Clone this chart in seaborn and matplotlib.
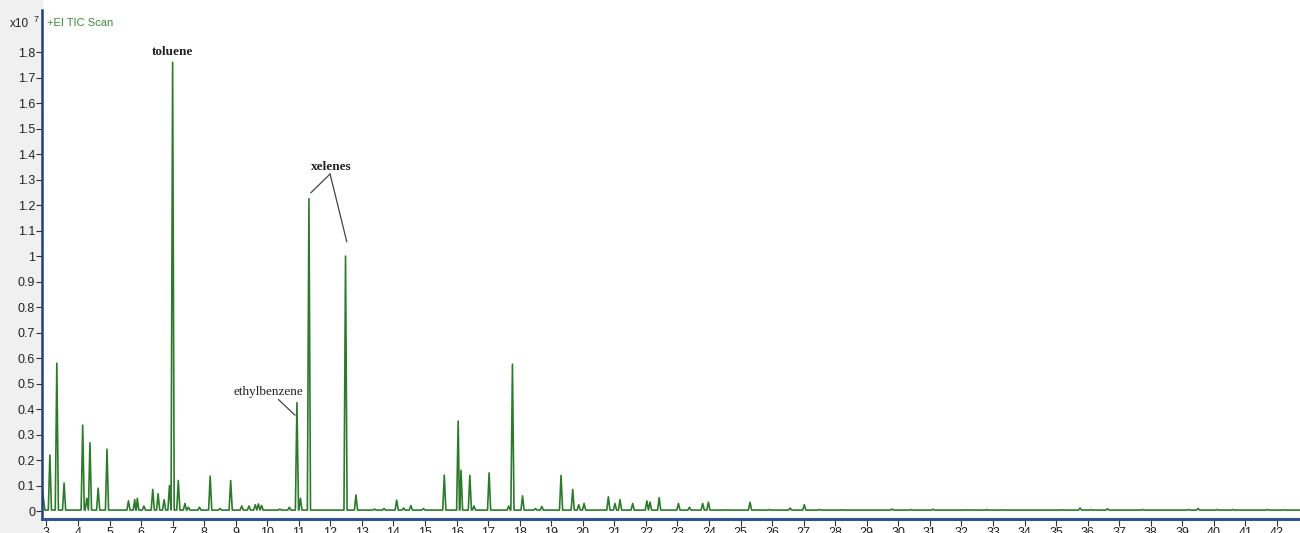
import numpy as np
import pandas as pd
import matplotlib
matplotlib.use("Agg")
import matplotlib.pyplot as plt
import seaborn as sns
from matplotlib.patches import Rectangle

# TIC chromatogram, peaks
# retention time (min) and apex height (x10^7 counts)
peak_rt = [
    3.11, 3.33, 3.56, 4.15, 4.28, 4.38, 4.64, 4.92, 5.60, 5.80, 5.88, 6.09,
    6.37, 6.54, 6.73, 6.90, 7.00, 7.18, 7.39, 7.50, 7.85, 8.19, 8.50, 8.84,
    9.19, 9.42, 9.62, 9.72, 9.82, 10.40, 10.70, 10.94, 11.05, 11.32, 12.48,
    12.81, 13.40, 13.70, 14.10, 14.32, 14.55, 14.95, 15.61, 16.05, 16.14,
    16.42, 16.55, 17.03, 17.65, 17.77, 18.09, 18.50, 18.70, 19.31, 19.68,
    19.87, 20.04, 20.81, 21.02, 21.18, 21.58, 22.03, 22.13, 22.42, 23.03,
    23.38, 23.80, 23.98, 24.60, 25.30, 25.90, 26.57, 27.02, 27.50, 28.20,
    29.80, 30.40, 31.10, 32.20, 32.80, 33.30, 35.20, 35.76, 36.10, 36.63,
    37.74, 39.20, 39.50, 40.10, 40.60, 41.70, 42.20,
]
peak_height = [
    0.22, 0.58, 0.11, 0.337, 0.05, 0.268, 0.09, 0.243, 0.04, 0.045, 0.05, 0.02,
    0.085, 0.068, 0.045, 0.10, 1.76, 0.12, 0.03, 0.015, 0.015, 0.137, 0.01, 0.12,
    0.02, 0.02, 0.025, 0.028, 0.022, 0.008, 0.015, 0.425, 0.05, 1.225, 1.0,
    0.063, 0.008, 0.01, 0.043, 0.012, 0.022, 0.01, 0.141, 0.353, 0.16,
    0.14, 0.02, 0.15, 0.02, 0.576, 0.06, 0.01, 0.018, 0.14, 0.085,
    0.025, 0.03, 0.056, 0.03, 0.045, 0.03, 0.04, 0.035, 0.053, 0.03,
    0.015, 0.03, 0.035, 0.005, 0.035, 0.006, 0.012, 0.025, 0.006, 0.005,
    0.008, 0.006, 0.007, 0.005, 0.006, 0.005, 0.005, 0.012, 0.006, 0.009,
    0.006, 0.006, 0.01, 0.006, 0.006, 0.006, 0.005,
]
baseline = 0.004
# trace starts on the tail of an early peak
start_times = [2.86, 2.95]
start_values = [0.095, 0.004]
end_time = 42.73

# build the trace: baseline - apex - baseline for every peak
half_w = 0.05
times = list(start_times)
values = list(start_values)
for rt, h in zip(peak_rt, peak_height):
    times += [rt - half_w, rt, rt + half_w]
    values += [baseline, h, baseline]
times.append(end_time)
values.append(baseline)
df = pd.DataFrame({"time": times, "signal": values})
df = df.sort_values("time", kind="stable").reset_index(drop=True)

sns.set_style("white")
plt.rcParams["font.family"] = ["Liberation Sans", "DejaVu Sans"]

W, H = 1300, 533
fig = plt.figure(figsize=(13, 5.33), dpi=100)
fig.patches.append(Rectangle((0, 0), 42 / W, 1, transform=fig.transFigure,
                             color="#f0f0f0", zorder=-1))
ax = fig.add_axes([42 / W, 14 / H, 1 - 42 / W, (519 - 10) / H])

sns.lineplot(data=df, x="time", y="signal", sort=False, estimator=None,
             color="#2d7a2d", linewidth=1.2, ax=ax)

ax.set_xlim(2.86, 42.73)
ax.set_ylim(-0.031, 1.965)
ax.set_xlabel("")
ax.set_ylabel("")

yt = np.round(np.arange(0, 1.81, 0.1), 1)
ax.set_yticks(yt)
ax.set_yticklabels([f"{v:g}" for v in yt])
ax.set_xticks(range(3, 43))

for s in ["top", "right"]:
    ax.spines[s].set_visible(False)
ax.spines["left"].set_color("#24407a")
ax.spines["left"].set_linewidth(1.8)
ax.spines["bottom"].set_color("#34568f")
ax.spines["bottom"].set_linewidth(2.2)

ax.tick_params(axis="y", direction="out", length=4, width=0.8, color="#333333",
               labelsize=9, pad=1, labelcolor="#222222", left=True)
ax.tick_params(axis="x", direction="out", length=5, width=0.8, color="#333333",
               labelsize=9, pad=1, labelcolor="#222222", bottom=True)

# peak labels
serif = ["Liberation Serif", "DejaVu Serif"]
ax.text(6.98, 1.80, "toluene", ha="center", va="center", fontsize=9.5,
        fontweight="bold", family=serif, color="#222222")
ax.text(10.02, 0.467, "ethylbenzene", ha="center", va="center", fontsize=9.5,
        family=serif, color="#222222")
ax.text(12.02, 1.349, "xelenes", ha="center", va="center", fontsize=9.5,
        fontweight="bold", family=serif, color="#222222")

line_kw = dict(arrowstyle="-", color="#444444", lw=0.9, shrinkA=0, shrinkB=0)
ax.annotate("", xy=(10.88, 0.376), xytext=(10.35, 0.438), arrowprops=line_kw)
ax.annotate("", xy=(11.38, 1.248), xytext=(11.99, 1.322), arrowprops=line_kw)
ax.annotate("", xy=(12.52, 1.056), xytext=(11.99, 1.322), arrowprops=line_kw)

# header texts
fig.text(10 / W, 1 - 27 / H, "x10", fontsize=8.5, color="#222222")
fig.text(34 / W, 1 - 22 / H, "7", fontsize=6.5, color="#222222")
fig.text(47 / W, 1 - 26 / H, "+EI TIC Scan", fontsize=8, color="#3c8a3c")

fig.savefig("out.png", dpi=100, facecolor="white")
